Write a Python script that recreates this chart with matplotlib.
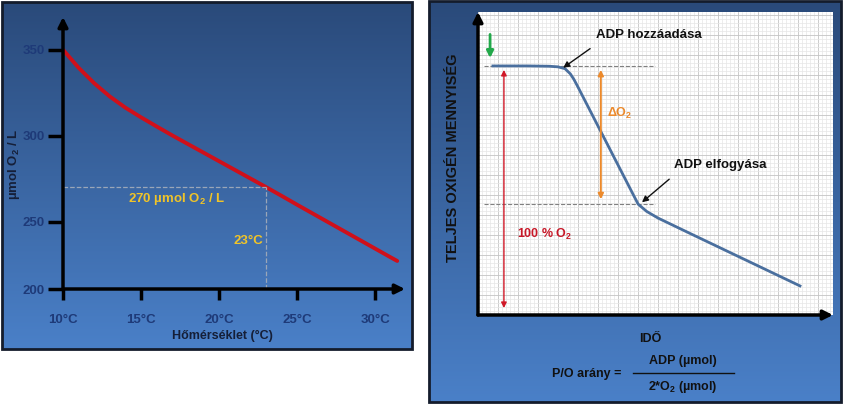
import numpy as np
import matplotlib
matplotlib.use('Agg')
import matplotlib.pyplot as plt
from matplotlib.colors import LinearSegmentedColormap
from matplotlib.patches import Rectangle
from matplotlib.ticker import MultipleLocator

plt.rcParams['font.family'] = ['Liberation Sans', 'DejaVu Sans']
plt.rcParams['font.weight'] = 'bold'
plt.rcParams['mathtext.fontset'] = 'custom'
plt.rcParams['mathtext.rm'] = 'Liberation Sans:bold'
plt.rcParams['mathtext.it'] = 'Liberation Sans:bold'
plt.rcParams['mathtext.bf'] = 'Liberation Sans:bold'

# left chart: dissolved O2 vs temperature
temp_c = [10, 11, 12, 13, 14, 15, 16, 17, 18, 19, 20, 21,
          22, 23, 24, 25, 26, 27, 28, 29, 30, 31, 31.4]
o2_umol = [350, 339.5, 330.5, 322.8, 316.3, 310.7, 305.4, 300.2, 295.2, 290.2, 285.2, 280.2,
           275.2, 270.2, 265.1, 259.9, 254.8, 249.7, 244.6, 239.5, 234.4, 229.3, 227.3]
x_ticks = [10, 15, 20, 25, 30]
x_tick_labels = ['10°C', '15°C', '20°C', '25°C', '30°C']
y_ticks = [211, 250, 300, 350]          # x axis crosses at the "200" mark
y_tick_labels = ['200', '250', '300', '350']
mark_temp, mark_o2 = 23, 270

# right chart: oxygen trace vs time (arbitrary units)
t_trace = [4.2, 14, 20, 22.5, 24.5, 26.0, 27.0, 28.0, 45.1, 47.5, 50.7, 60.3, 69.6, 78.9, 90.7]
o2_trace = [82.2, 82.2, 82.1, 81.9, 81.3, 79.6, 77.8, 75.6, 36.6, 34.2, 32.0, 26.6, 21.4, 16.2, 9.6]
adp_add = (24.0, 81.6)
adp_end = (45.1, 36.6)

W, H = 845, 404
fig = plt.figure(figsize=(W / 100, H / 100), dpi=100)


def box(x0, y0, x1, y1):
    return [x0 / W, 1 - y1 / H, (x1 - x0) / W, (y1 - y0) / H]


def ftext(px, py, s, **kw):
    fig.text(px / W, 1 - py / H, s, **kw)


grad_cmap = LinearSegmentedColormap.from_list('bg', ['#4a80c8', '#2a4a7a'])
grad = np.linspace(0, 1, 256).reshape(-1, 1)


def panel(x0, y0, x1, y1):
    bg = fig.add_axes(box(x0, y0, x1, y1))
    bg.imshow(grad, aspect='auto', cmap=grad_cmap, origin='lower', extent=[0, 1, 0, 1])
    bg.add_patch(Rectangle((0, 0), 1, 1, transform=bg.transAxes, fill=False,
                           lw=2, edgecolor='#141c2c', clip_on=False))
    bg.axis('off')


def arrow_axes(ax, lw=2.5):
    kw = dict(arrowstyle='-|>', lw=lw, color='black', mutation_scale=14,
              shrinkA=0, shrinkB=0)
    ax.annotate('', xy=(0, 1), xytext=(0, 0), xycoords='axes fraction',
                arrowprops=kw, annotation_clip=False)
    ax.annotate('', xy=(1, 0), xytext=(0, 0), xycoords='axes fraction',
                arrowprops=kw, annotation_clip=False)
    for s in ax.spines.values():
        s.set_visible(False)


# ---------- left panel ----------
panel(2, 2, 412, 349)
ax1 = fig.add_axes(box(63, 17, 405, 289))
ax1.patch.set_alpha(0)
ax1.set_xlim(10, 31.9)
ax1.set_ylim(211, 369)
arrow_axes(ax1)
ax1.plot(temp_c, o2_umol, color='#d0101a', lw=2.8, solid_capstyle='round',
         solid_joinstyle='round')
ax1.plot([10, mark_temp], [mark_o2, mark_o2], ls='--', color='#9aa6b8', lw=0.9)
ax1.plot([mark_temp, mark_temp], [211, mark_o2], ls='--', color='#9aa6b8', lw=0.9)
ax1.set_xticks(x_ticks, x_tick_labels)
ax1.set_yticks(y_ticks, y_tick_labels)
ax1.tick_params(axis='x', direction='out', length=8, width=2.5, pad=10,
                labelsize=9.5, labelcolor='#1e3a78')
ax1.tick_params(axis='y', direction='out', length=11, width=2.5, pad=2,
                labelsize=9.5, labelcolor='#1e3a78')
for lab in ax1.get_xticklabels() + ax1.get_yticklabels():
    lab.set_fontweight('bold')
ax1.text(17.3, mark_o2 - 7, '270 µmol O$_2$ / L', color='#f0c428', fontsize=9.5,
         ha='center', va='center')
ax1.text(mark_temp - 0.2, 239, '23°C', color='#f0c428', fontsize=9.5,
         ha='right', va='center')
ftext(222, 336, 'Hőmérséklet (°C)', color='#151f38', fontsize=9, ha='center', va='center')
ftext(14, 164, 'µmol O$_2$ / L', color='#151f38', fontsize=9.5, ha='center', va='center',
      rotation=90)

# ---------- right panel ----------
panel(429, 1, 841, 402)
ax2 = fig.add_axes(box(478, 12, 833, 315))
ax2.set_facecolor('white')
ax2.set_xlim(0, 100)
ax2.set_ylim(0, 100)
ax2.xaxis.set_major_locator(MultipleLocator(100 / 17.75))
ax2.xaxis.set_minor_locator(MultipleLocator(100 / 88.75))
ax2.yaxis.set_major_locator(MultipleLocator(100 / 15.15))
ax2.yaxis.set_minor_locator(MultipleLocator(100 / 75.75))
ax2.grid(which='major', color='#c4c4c4', lw=0.6)
ax2.grid(which='minor', color='#e6e6e6', lw=0.5)
ax2.tick_params(which='both', length=0, labelbottom=False, labelleft=False)
ax2.set_axisbelow(True)
arrow_axes(ax2)

ax2.plot([1.7, 49.9], [adp_add[1] + 0.6] * 2, ls='--', color='#808080', lw=0.8)
ax2.plot([1.7, 49.9], [adp_end[1]] * 2, ls='--', color='#808080', lw=0.8)
ax2.plot(t_trace, o2_trace, color='#4a6f9e', lw=2, solid_joinstyle='round')

ax2.annotate('', xy=(3.4, 84.8), xytext=(3.4, 92.6),
             arrowprops=dict(arrowstyle='-|>', lw=2, color='#22a84a',
                             mutation_scale=10, shrinkA=0, shrinkB=0))
ax2.annotate('', xy=(7.3, 2.3), xytext=(7.3, 80.9),
             arrowprops=dict(arrowstyle='<|-|>', lw=1, color='#d01828',
                             mutation_scale=8, shrinkA=0, shrinkB=0))
ax2.annotate('', xy=(34.6, 38.2), xytext=(34.6, 80.9),
             arrowprops=dict(arrowstyle='<|-|>', lw=1.4, color='#ec8a2c',
                             mutation_scale=8, shrinkA=0, shrinkB=0))
ax2.text(11, 26.5, '100 % O$_2$', color='#c81828', fontsize=9, va='center')
ax2.text(36.2, 66.5, 'ΔO$_2$', color='#ec8a2c', fontsize=9, va='center')

ax2.annotate('ADP hozzáadása', xy=adp_add, xytext=(48, 92.4), ha='center', va='center',
             fontsize=9.5, color='#111111',
             arrowprops=dict(arrowstyle='-|>', lw=1, color='#111111', mutation_scale=9,
                             shrinkA=6, shrinkB=0, relpos=(0.05, 0)))
ax2.annotate('ADP elfogyása', xy=(46.2, 37.2), xytext=(68.3, 49.5), ha='center', va='center',
             fontsize=9.5, color='#111111',
             arrowprops=dict(arrowstyle='-|>', lw=1, color='#111111', mutation_scale=9,
                             shrinkA=6, shrinkB=0, relpos=(0.05, 0)))

ftext(453, 158, 'TELJES OXIGÉN MENNYISÉG', color='#111111', fontsize=10.5,
      ha='center', va='center', rotation=90)
ftext(650, 339, 'IDŐ', color='#111111', fontsize=9, ha='center', va='center')
ftext(587, 374, 'P/O arány =', color='#111111', fontsize=9, ha='center', va='center')
ftext(683, 361, 'ADP (µmol)', color='#111111', fontsize=9, ha='center', va='center')
ftext(683, 387, '2*O$_2$ (µmol)', color='#111111', fontsize=9, ha='center', va='center')
fig.add_artist(plt.Line2D([633 / W, 734 / W], [1 - 373 / H] * 2, color='#111111', lw=1))

fig.savefig('out.png', dpi=100)
